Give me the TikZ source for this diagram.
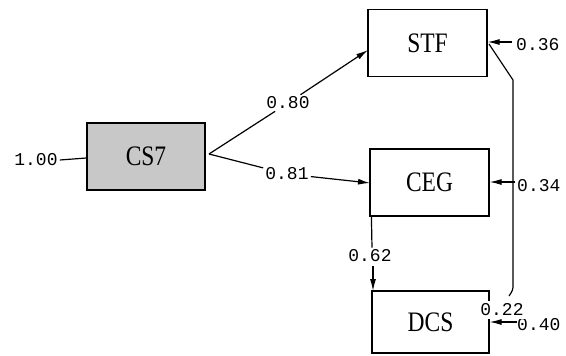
\documentclass[tikz,border=0pt]{standalone}
\usepackage{fontspec}
\setmainfont{Liberation Serif}
\newfontfamily\nummono{Liberation Mono}
\usetikzlibrary{arrows.meta}
\definecolor{boxgray}{RGB}{200,200,200}
\tikzset{
  var/.style={draw, line width=1.2pt, minimum width=119pt, minimum height=67pt, inner sep=0pt,
    font=\fontsize{23.5}{26}\selectfont},
  coef/.style={fill=white, inner sep=2pt, font=\nummono\fontsize{18}{20}\selectfont},
  conn/.style={line width=1.2pt},
  arr/.style={line width=1.2pt, -{Latex[length=12pt,width=6pt]}},
}
\newcommand{\tall}[1]{\scalebox{1}[1.2]{#1}}
\begin{document}
\begin{tikzpicture}[x=1pt,y=-1pt]
\useasboundingbox (0,0) rectangle (566,356);
% boxes
\node[var, fill=boxgray, minimum width=118pt] (cs7) at (146,156.5) {\tall{CS7}};
\node[var] (stf) at (427.5,43) {\tall{STF}};
\node[var] (ceg) at (429.5,182.5) {\tall{CEG}};
\node[var, minimum width=117pt, minimum height=62pt] (dcs) at (430.5,322) {\tall{DCS}};
% labels
\node[coef, fill=none] (l100) at (36,160) {1.00};
\node[coef] (l80) at (288,103) {0.80};
\node[coef] (l81) at (287,174) {0.81};
\node[coef, fill=none, anchor=west] (l36) at (514,45) {0.36};
\node[coef, fill=none, anchor=west] (l34) at (515,186) {0.34};
\node[coef] (l62) at (370,256) {0.62};
\node[coef, fill=none, anchor=west] (l40) at (515,325) {0.40};
% coordinates
\coordinate (o) at (209,154);
\coordinate (stfin) at (368,50);
\coordinate (cegin) at (370,183);
\coordinate (e36) at (512,42);
\coordinate (e34) at (515,182);
\coordinate (e40) at (517,322);
\coordinate (c1) at (489,44);
\coordinate (c2) at (513,80);
\coordinate (c3) at (513,284);
\coordinate (c4) at (509,296);
% connectors
\draw[conn] (l100.east) -- (cs7.west |- 0,158);
\draw[conn] (o) -- (l80);
\draw[arr] (l80) -- (stfin);
\draw[conn] (o) -- (l81);
\draw[arr] (l81) -- (cegin);
\draw[arr] (e36) -- (e36 -| stf.east);
\draw[arr] (e34) -- (e34 -| ceg.east);
\draw[arr] (e40) -- (e40 -| dcs.east);
\draw[conn] (ceg.south west) ++(2,0) -- (l62.north -| 372,0);
\draw[arr] (373,266) -- (373,291);
\draw[conn] (c1) -- (c2) -- (c3) .. controls (513,290) .. (c4);
\node[coef, inner sep=3pt] (l22) at (502,310) {0.22};
\end{tikzpicture}
\end{document}
